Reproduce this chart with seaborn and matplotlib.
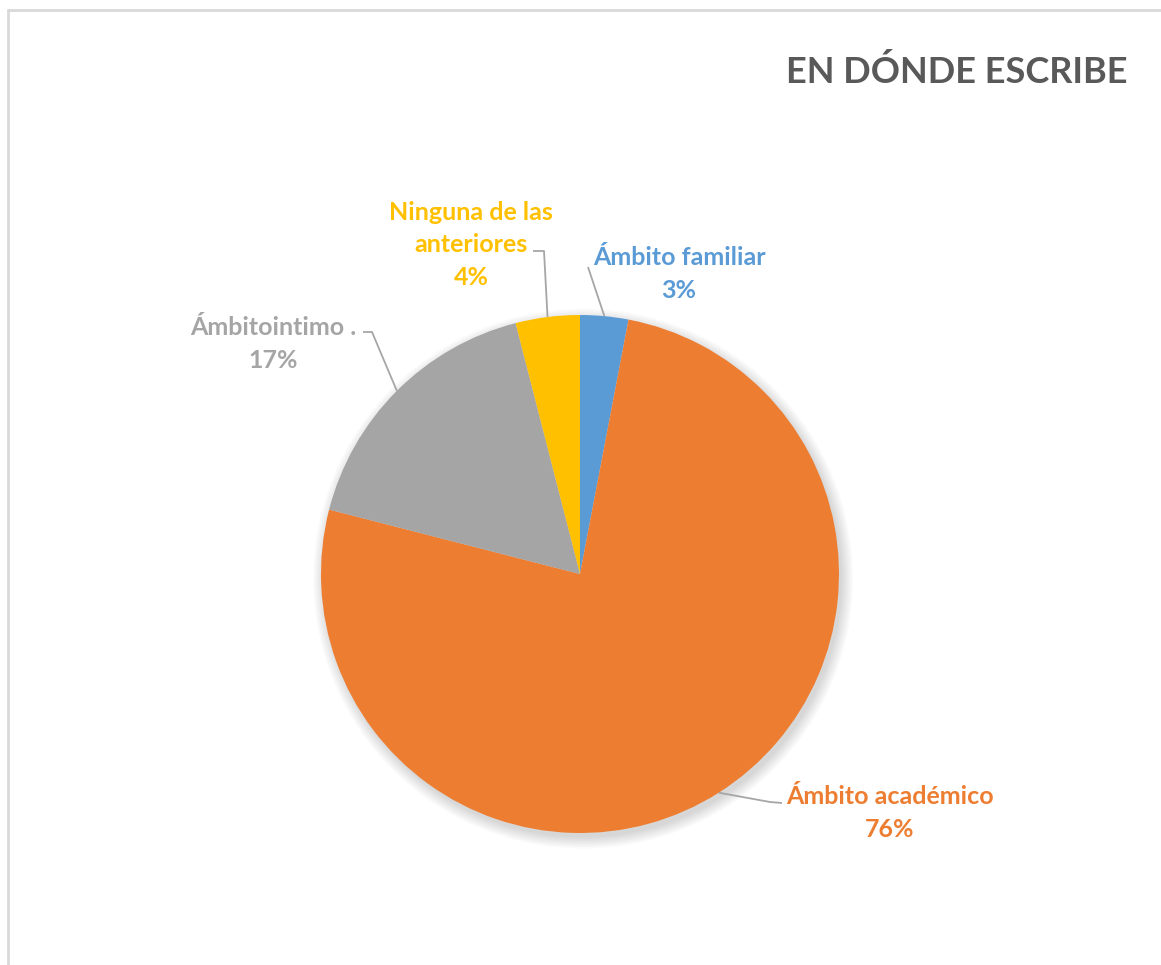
import numpy as np
import matplotlib
matplotlib.use("Agg")
import matplotlib.pyplot as plt
import seaborn as sns
from matplotlib.lines import Line2D
from matplotlib.patches import Circle

sns.set_theme(style="white")
plt.rcParams['font.family'] = ['Lato', 'DejaVu Sans']

# ---- data ----
categories = ["Ámbito familiar", "Ámbito académico", "Ámbitointimo .", "Ninguna de las\nanteriores"]
values = [3, 76, 17, 4]
colors = ["#5B9BD5", "#ED7D31", "#A5A5A5", "#FFC000"]
title = "EN DÓNDE ESCRIBE"

W, H = 1161, 965
fig = plt.figure(figsize=(W / 100, H / 100), dpi=100)
fig.patch.set_facecolor("white")

# frame
fig.add_artist(Line2D([8 / W, 8 / W], [0, 1 - 10 / H], color="#D9D9D9", lw=2))
fig.add_artist(Line2D([8 / W, 1], [1 - 10 / H, 1 - 10 / H], color="#D9D9D9", lw=2))

cx, cy, R = 580, 574, 259
ax = fig.add_axes([(cx - R) / W, (H - cy - R) / H, 2 * R / W, 2 * R / H])
ax.axis("off")

# soft shadow
for i in range(8):
    ax.add_patch(Circle((0.012, -0.018), 1.0 + 0.006 * i, color="black",
                        alpha=0.018, lw=0, zorder=0, clip_on=False))

wedges, _ = ax.pie(values, colors=colors, startangle=90, counterclock=False,
                   radius=1.0, wedgeprops=dict(linewidth=0))
for w in wedges:
    w.set_zorder(2)
    w.set_clip_on(False)
ax.set_xlim(-1, 1)
ax.set_ylim(-1, 1)
ax.set_aspect("equal")

total = sum(values)
# label layout (pixel positions of label block centers and leader elbows)
label_pos = [(679, 274), (890, 813), (273, 344), (471, 245)]
elbows = [[(588, 267)], [(782, 803), (770, 802)], [(363, 332), (372, 332)], [(533, 251), (544, 251)]]

def to_data(p):
    return ((p[0] - cx) / R, (cy - p[1]) / R)

for w, cat, v, col, lp, el in zip(wedges, categories, values, colors, label_pos, elbows):
    ang = np.deg2rad((w.theta1 + w.theta2) / 2)
    edge = (np.cos(ang), np.sin(ang))
    pts = [to_data(p) for p in el] + [edge]
    ax.plot([p[0] for p in pts], [p[1] for p in pts], color="#A6A6A6", lw=1.3,
            zorder=3, clip_on=False, solid_capstyle="butt")
    pct = f"{round(100 * v / total)}%"
    x, y = to_data(lp)
    ax.text(x, y, f"{cat}\n{pct}", ha="center", va="center", color=col,
            fontsize=18, fontweight="bold", linespacing=1.5, zorder=4)

fig.text(1128 / W, 1 - 72 / H, title, ha="right", va="center", color="#595959",
         fontsize=26, fontweight="bold")

fig.savefig("out.png", dpi=100)
